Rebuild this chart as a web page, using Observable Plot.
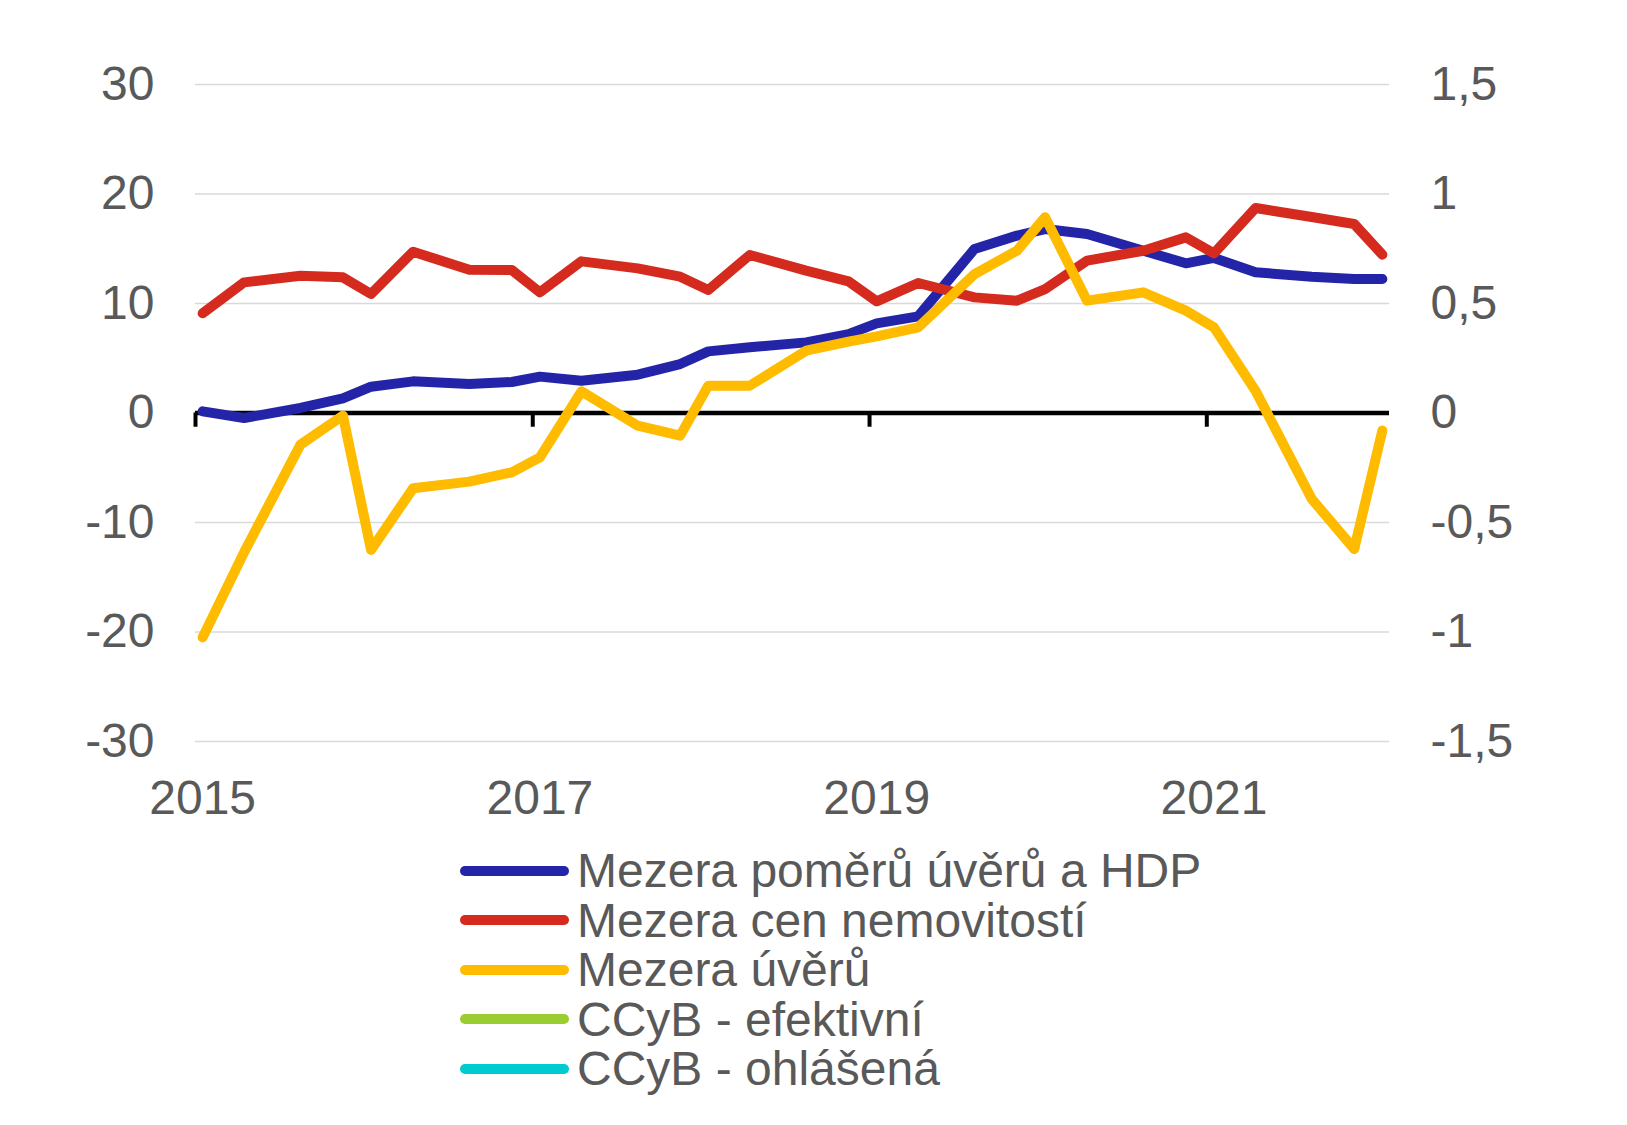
<!DOCTYPE html>
<html>
<head>
<meta charset="utf-8">
<script src="https://cdn.jsdelivr.net/npm/d3@7"></script>
<script src="https://cdn.jsdelivr.net/npm/@observablehq/plot@0.6"></script>
<style>
  html, body { margin: 0; padding: 0; background: #fff; }
  body { width: 1627px; height: 1125px; position: relative; overflow: hidden;
         font-family: "Liberation Sans", Arial, sans-serif; color: #595959; }
  #chart { position: absolute; left: 0; top: 0; }
  #legend { position: absolute; left: 460px; top: 846px; }
  .row { display: flex; align-items: center; height: 49.5px; }
  .sw { width: 109px; height: 10px; border-radius: 5px; margin-right: 8px; }
  .lab { font-size: 48px; line-height: 49.5px; white-space: nowrap; }
</style>
</head>
<body>
<div id="chart"></div>
<div id="legend"></div>
<script>
// Observation months (points plotted at mid-month)
const dates = [
  "2015-01","2015-04","2015-08","2015-11",
  "2016-01","2016-04","2016-08","2016-11",
  "2017-01","2017-04","2017-08","2017-11",
  "2018-01","2018-04","2018-08","2018-11",
  "2019-01","2019-04","2019-08","2019-11",
  "2020-01","2020-04","2020-08","2020-11",
  "2021-01","2021-04","2021-08","2021-11",
  "2022-01"
];
// Mezera poměrů úvěrů a HDP
const mezeraPomeru = [0.15, -0.46, 0.46, 1.34, 2.4, 2.89, 2.65, 2.83, 3.32, 2.95, 3.5, 4.47, 5.63, 6.0, 6.45, 7.21, 8.19, 8.83, 14.98, 16.2, 16.8, 16.35, 14.82, 13.67, 14.16, 12.85, 12.45, 12.24, 12.24];
// Mezera cen nemovitostí
const mezeraCen = [9.1, 11.93, 12.54, 12.39, 10.87, 14.73, 13.09, 13.06, 11.02, 13.85, 13.21, 12.45, 11.23, 14.43, 13.0, 12.02, 10.2, 11.87, 10.56, 10.26, 11.32, 13.91, 14.82, 16.04, 14.58, 18.72, 17.9, 17.26, 14.46];
// Mezera úvěrů
const mezeraUveru = [-20.49, -12.7, -2.89, -0.24, -12.5, -6.88, -6.27, -5.42, -4.05, 1.98, -1.16, -2.07, 2.5, 2.5, 5.69, 6.51, 7.0, 7.82, 12.69, 14.82, 17.87, 10.26, 11.02, 9.35, 7.82, 2.04, -7.85, -12.42, -1.61];

const seriesNames = ["Mezera poměrů úvěrů a HDP", "Mezera cen nemovitostí", "Mezera úvěrů", "CCyB - efektivní", "CCyB - ohlášená"];
const seriesColors = ["#2424A8", "#D52B1E", "#FFBB00", "#9ACD32", "#00CCD0"];

const leftTicks = [30, 20, 10, 0, -10, -20, -30];
const rightTicks = [1.5, 1, 0.5, 0, -0.5, -1, -1.5];
const yearLabels = [2015, 2017, 2019, 2021];

// helpers
const midMonth = s => { const [y, m] = s.split("-").map(Number); return new Date(Date.UTC(y, m - 1, 16, 12)); };
const toRows = vals => dates.map((d, i) => ({date: midMonth(d), value: vals[i]}));
const leftDomain = [-30, 30];
const rightRatio = leftDomain[1] / rightTicks[0];

const tickDates = yearLabels.map(y => new Date(Date.UTC(y, 0, 1)));
const labelDates = yearLabels.map(y => new Date(Date.UTC(y, 0, 16, 12)));

const lineStyle = {x: "date", y: "value", strokeWidth: 10, strokeLinecap: "round", strokeLinejoin: "round"};

const plot = Plot.plot({
  width: 1627,
  height: 840,
  marginLeft: 195,
  marginRight: 238,
  marginTop: 84,
  marginBottom: 99,
  style: {fontFamily: '"Liberation Sans", Arial, sans-serif', fontSize: "48px", color: "#595959", background: "white"},
  x: {type: "utc", domain: [new Date(Date.UTC(2015, 0, 1)), new Date(Date.UTC(2022, 1, 1))], label: null},
  y: {domain: leftDomain, label: null},
  marks: [
    Plot.ruleY(leftTicks.filter(d => d !== 0), {stroke: "#d9d9d9", strokeWidth: 1.5}),
    Plot.ruleY([0], {stroke: "#000", strokeWidth: 4.5}),
    Plot.ruleX(tickDates, {y1: 0, y2: -1.3, stroke: "#000", strokeWidth: 4}),
    Plot.line(toRows(mezeraPomeru), {...lineStyle, stroke: seriesColors[0]}),
    Plot.line(toRows(mezeraCen), {...lineStyle, stroke: seriesColors[1]}),
    Plot.line(toRows(mezeraUveru), {...lineStyle, stroke: seriesColors[2]}),
    Plot.axisY({anchor: "left", ticks: leftTicks, tickSize: 0, tickPadding: 41, tickFormat: d => String(d), fontSize: 48, label: null}),
    Plot.axisY({anchor: "right", ticks: rightTicks.map(v => v * rightRatio), tickSize: 0, tickPadding: 41,
                tickFormat: d => String(d / rightRatio).replace(".", ","), fontSize: 48, label: null}),
    Plot.axisX({anchor: "bottom", ticks: labelDates, tickSize: 0, tickPadding: 38,
                tickFormat: d => String(d.getUTCFullYear()), fontSize: 48, label: null})
  ]
});
document.getElementById("chart").appendChild(plot);

const legend = document.getElementById("legend");
seriesNames.forEach((name, i) => {
  const row = document.createElement("div");
  row.className = "row";
  const sw = document.createElement("div");
  sw.className = "sw";
  sw.style.background = seriesColors[i];
  const lab = document.createElement("div");
  lab.className = "lab";
  lab.textContent = name;
  row.appendChild(sw);
  row.appendChild(lab);
  legend.appendChild(row);
});
</script>
</body>
</html>
